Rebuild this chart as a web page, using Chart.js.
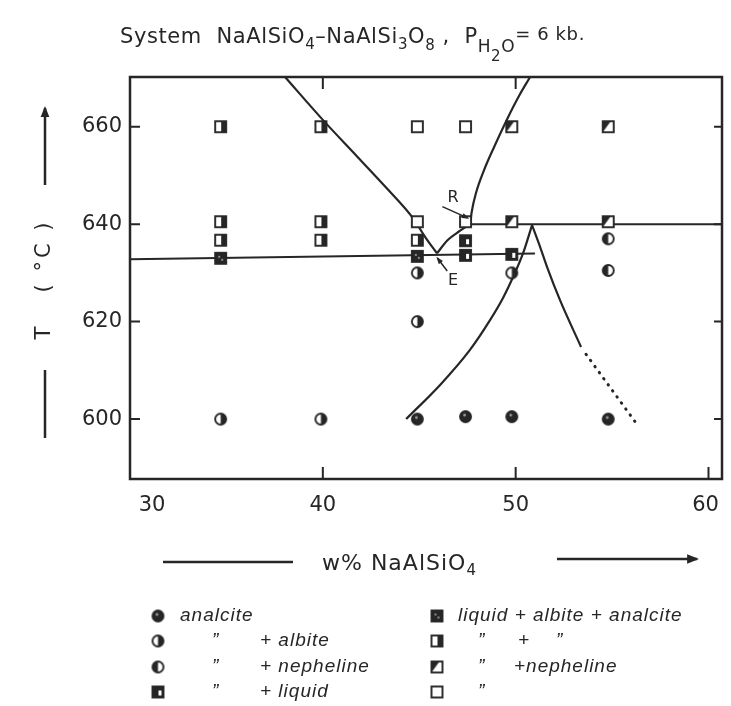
<!DOCTYPE html>
<html>
<head>
<meta charset="utf-8">
<script src="https://cdn.jsdelivr.net/npm/chart.js@4/dist/chart.umd.min.js"></script>
<style>
  html, body { margin: 0; padding: 0; background: #fff; }
  canvas { display: block; }
</style>
</head>
<body>
<canvas id="chart" width="731" height="706"></canvas>
<script>
// axis ticks
const xTicks = [30, 40, 50, 60];
const yTicks = [600, 620, 640, 660];

// experimental runs [w% NaAlSiO4, T]
const analcite = [[44.9, 600], [47.4, 600.5], [49.8, 600.5], [54.8, 600]];
const analciteAlbite = [[34.7, 600], [39.9, 600], [44.9, 630], [44.9, 620], [49.8, 630]];
const analciteNepheline = [[54.8, 637], [54.8, 630.5]];
const analciteLiquid = [[47.4, 636.6], [47.4, 633.6], [49.8, 633.8]];
const liquidAlbiteAnalcite = [[34.7, 633], [44.9, 633.4]];
const liquidAlbite = [[34.7, 660], [39.9, 660], [34.7, 640.5], [39.9, 640.5], [34.7, 636.7], [39.9, 636.7], [44.9, 636.7]];
const liquidNepheline = [[49.8, 660], [54.8, 660], [49.8, 640.5], [54.8, 640.5]];
const liquidOnly = [[44.9, 660], [47.4, 660], [44.9, 640.5], [47.4, 640.5]];

// phase boundaries
const albiteLiquidus = [[38.04, 670.2], [40.0, 661.4], [41.8, 653.8], [43.4, 647.0], [44.68, 641.2], [45.3, 637.4], [45.92, 634.0]];
const analciteLiquidus = [[45.92, 634.0], [46.44, 636.6], [47.1, 638.6], [47.64, 640.0]];
const nephelineLiquidus = [[47.64, 640.0], [47.72, 642.5], [47.95, 646.5], [48.35, 651.0], [48.9, 656.0], [49.55, 661.5], [50.2, 666.5], [50.75, 670.2]];
const line640 = [[47.64, 640.0], [60.7, 640.0]];
const line633 = [[30, 632.8], [51.0, 634.0]];
const solvusLeft = [[44.32, 600.0], [46.08, 607.0], [47.63, 614.2], [48.67, 620.3], [49.35, 624.9], [49.87, 629.2], [50.39, 634.1], [50.85, 639.8]];
const solvusRight = [[50.85, 639.8], [51.27, 635.3], [51.63, 631.2], [52.3, 624.4], [53.39, 614.8]];
const solvusDotted = [[53.65, 613.3], [56.35, 598.6]];

const ink = "#262626";

function xy(list) {
  return list.map(p => ({ x: p[0], y: p[1] }));
}

function makeMarker(kind) {
  const c = document.createElement("canvas");
  c.width = 15;
  c.height = 15;
  const g = c.getContext("2d");
  const m = 7.5;
  g.strokeStyle = ink;
  g.fillStyle = ink;
  g.lineWidth = 1.9;

  if (kind.startsWith("c")) {
    g.beginPath();
    g.arc(m, m, 5.5, 0, Math.PI * 2);
    g.fillStyle = "#fff";
    g.fill();
    g.fillStyle = ink;
    g.beginPath();
    if (kind === "cFull") g.arc(m, m, 5.5, 0, Math.PI * 2);
    if (kind === "cRight") g.arc(m, m, 5.5, -Math.PI / 2, Math.PI / 2);
    if (kind === "cLeft") g.arc(m, m, 5.5, Math.PI / 2, Math.PI * 1.5);
    g.closePath();
    g.fill();
    g.beginPath();
    g.arc(m, m, 5.5, 0, Math.PI * 2);
    g.stroke();
    if (kind === "cFull") {
      g.fillStyle = "#9a9a9a";
      g.beginPath();
      g.arc(6.5, 6, 1.4, 0, Math.PI * 2);
      g.fill();
    }
    return c;
  }

  g.fillStyle = "#fff";
  g.fillRect(2, 2, 11, 11);
  g.fillStyle = ink;
  if (kind === "sFull") {
    g.fillRect(2, 2, 11, 11);
    g.fillStyle = "#8a8a8a";
    g.fillRect(5, 5, 2, 2);
    g.fillRect(8, 8, 2, 2);
  }
  if (kind === "sCorner") {
    g.fillRect(2, 2, 11, 11);
    g.fillStyle = "#fff";
    g.fillRect(8, 6, 3, 5);
  }
  if (kind === "sRight") g.fillRect(8, 2, 5, 11);
  if (kind === "sDiag") {
    g.beginPath();
    g.moveTo(2, 2);
    g.lineTo(10, 2);
    g.lineTo(2, 13);
    g.closePath();
    g.fill();
  }
  g.strokeRect(2, 2, 11, 11);
  return c;
}

const markers = {
  analcite: makeMarker("cFull"),
  anAb: makeMarker("cRight"),
  anNe: makeMarker("cLeft"),
  anLiq: makeMarker("sCorner"),
  liqAbAn: makeMarker("sFull"),
  liqAb: makeMarker("sRight"),
  liqNe: makeMarker("sDiag"),
  liq: makeMarker("sOpen")
};

function pointSet(label, list, marker) {
  return {
    label,
    data: xy(list),
    pointStyle: marker,
    showLine: false,
    order: 0
  };
}

function lineSet(label, list, extra = {}) {
  return Object.assign({
    label,
    data: xy(list),
    showLine: true,
    pointRadius: 0,
    borderColor: ink,
    borderWidth: 2.2,
    cubicInterpolationMode: "monotone",
    fill: false,
    order: 1
  }, extra);
}

function rich(ctx, x, y, parts, spacing) {
  ctx.letterSpacing = (spacing || 0) + "px";
  parts.forEach(([text, size, dy]) => {
    ctx.font = `${size}px "DejaVu Sans"`;
    ctx.fillText(text, x, y + dy);
    x += ctx.measureText(text).width;
  });
  ctx.letterSpacing = "0px";
  return x;
}

function arrow(ctx, x1, y1, x2, y2, head) {
  ctx.beginPath();
  ctx.moveTo(x1, y1);
  ctx.lineTo(x2, y2);
  ctx.stroke();
  const a = Math.atan2(y2 - y1, x2 - x1);
  ctx.beginPath();
  ctx.moveTo(x2 + Math.cos(a) * 2, y2 + Math.sin(a) * 2);
  ctx.lineTo(x2 - Math.cos(a - 0.45) * head, y2 - Math.sin(a - 0.45) * head);
  ctx.lineTo(x2 - Math.cos(a + 0.45) * head, y2 - Math.sin(a + 0.45) * head);
  ctx.closePath();
  ctx.fill();
}

const paper = {
  id: "paper",
  beforeDraw(chart) {
    const ctx = chart.ctx;
    ctx.save();
    ctx.fillStyle = "#fff";
    ctx.fillRect(0, 0, chart.width, chart.height);
    ctx.restore();
  },
  afterDraw(chart) {
    const ctx = chart.ctx;
    const a = chart.chartArea;
    const sx = chart.scales.x;
    const sy = chart.scales.y;
    ctx.save();
    ctx.strokeStyle = ink;
    ctx.fillStyle = ink;

    // frame
    ctx.lineWidth = 2.5;
    ctx.strokeRect(a.left, a.top, a.right - a.left, a.bottom - a.top);

    // inward ticks
    ctx.lineWidth = 2;
    yTicks.forEach(v => {
      const py = sy.getPixelForValue(v);
      ctx.beginPath();
      ctx.moveTo(a.left, py); ctx.lineTo(a.left + 10, py);
      ctx.moveTo(a.right, py); ctx.lineTo(a.right - 8, py);
      ctx.stroke();
    });
    xTicks.slice(1).forEach(v => {
      const px = sx.getPixelForValue(v);
      ctx.beginPath();
      ctx.moveTo(px, a.bottom); ctx.lineTo(px, a.bottom - 12);
      if (v < 60) { ctx.moveTo(px, a.top); ctx.lineTo(px, a.top + 12); }
      ctx.stroke();
    });

    // tick labels
    ctx.font = '21px "DejaVu Sans"';
    ctx.textAlign = "right";
    ctx.textBaseline = "middle";
    yTicks.forEach(v => ctx.fillText(String(v), a.left - 8, sy.getPixelForValue(v)));
    ctx.textAlign = "center";
    xTicks.forEach(v => {
      let px = sx.getPixelForValue(v);
      if (v === 30) px += 22;
      if (v === 60) px -= 3;
      ctx.fillText(String(v), px, 506);
    });

    // title
    ctx.textAlign = "left";
    ctx.textBaseline = "alphabetic";
    rich(ctx, 120, 43, [
      ["System  NaAlSiO", 21, 0], ["4", 15, 6], ["\u2013NaAlSi", 21, 0], ["3", 15, 6],
      ["O", 21, 0], ["8", 15, 7], [" ,  P", 21, 0], ["H", 17, 9], ["2", 15, 18],
      ["O", 17, 9], ["= 6 kb.", 18, -3]
    ], 0.6);

    // y axis title
    ctx.save();
    ctx.translate(45, 0);
    ctx.rotate(-Math.PI / 2);
    ctx.font = '21px "DejaVu Sans"';
    ctx.textAlign = "center";
    ctx.textBaseline = "middle";
    ctx.fillText("T", -333, 0);
    ctx.letterSpacing = "3px";
    ctx.fillText("( \u00b0C )", -256, 0);
    ctx.letterSpacing = "0px";
    ctx.restore();
    ctx.lineWidth = 2.5;
    ctx.beginPath();
    ctx.moveTo(45, 438); ctx.lineTo(45, 370);
    ctx.stroke();
    arrow(ctx, 45, 185, 45, 108, 10);

    // x axis title
    ctx.beginPath();
    ctx.moveTo(163, 562); ctx.lineTo(293, 562);
    ctx.stroke();
    rich(ctx, 322, 570, [["w% NaAlSiO", 22, 0], ["4", 15, 5]], 1);
    arrow(ctx, 557, 559, 697, 559, 11);

    // point annotations
    ctx.font = '16px "DejaVu Sans"';
    ctx.textAlign = "center";
    ctx.textBaseline = "middle";
    ctx.fillText("R", sx.getPixelForValue(46.75), sy.getPixelForValue(645.3));
    ctx.fillText("E", sx.getPixelForValue(46.75), sy.getPixelForValue(628.3));
    ctx.lineWidth = 1.5;
    arrow(ctx, sx.getPixelForValue(46.2), sy.getPixelForValue(643.6),
      sx.getPixelForValue(47.5), sy.getPixelForValue(641.3), 6);
    arrow(ctx, sx.getPixelForValue(46.45), sy.getPixelForValue(630.4),
      sx.getPixelForValue(45.95), sy.getPixelForValue(633.0), 6);

    // legend
    const rows = [616, 641, 667, 692];
    const left = [
      [markers.analcite, [["analcite", 180]]],
      [markers.anAb, [["\u201d", 212], ["+ albite", 260]]],
      [markers.anNe, [["\u201d", 212], ["+ nepheline", 260]]],
      [markers.anLiq, [["\u201d", 212], ["+ liquid", 260]]]
    ];
    const right = [
      [markers.liqAbAn, [["liquid + albite + analcite", 458]]],
      [markers.liqAb, [["\u201d", 478], ["+", 518], ["\u201d", 556]]],
      [markers.liqNe, [["\u201d", 478], ["+nepheline", 514]]],
      [markers.liq, [["\u201d", 478]]]
    ];
    ctx.textAlign = "left";
    ctx.textBaseline = "middle";
    ctx.font = 'italic 19px "Liberation Sans"';
    ctx.letterSpacing = "1px";
    [[left, 158], [right, 437]].forEach(([col, mx]) => {
      col.forEach(([mk, texts], i) => {
        ctx.drawImage(mk, mx - 7.5, rows[i] - 7.5);
        texts.forEach(([t, tx]) => ctx.fillText(t, tx, rows[i]));
      });
    });
    ctx.letterSpacing = "0px";

    ctx.restore();
  }
};

new Chart(document.getElementById("chart"), {
  type: "scatter",
  data: {
    datasets: [
      pointSet("analcite", analcite, markers.analcite),
      pointSet("analcite + albite", analciteAlbite, markers.anAb),
      pointSet("analcite + nepheline", analciteNepheline, markers.anNe),
      pointSet("analcite + liquid", analciteLiquid, markers.anLiq),
      pointSet("liquid + albite + analcite", liquidAlbiteAnalcite, markers.liqAbAn),
      pointSet("liquid + albite", liquidAlbite, markers.liqAb),
      pointSet("liquid + nepheline", liquidNepheline, markers.liqNe),
      pointSet("liquid", liquidOnly, markers.liq),
      lineSet("albite liquidus", albiteLiquidus),
      lineSet("analcite liquidus", analciteLiquidus),
      lineSet("nepheline liquidus", nephelineLiquidus),
      lineSet("640", line640, { cubicInterpolationMode: "default", tension: 0, borderWidth: 2 }),
      lineSet("633", line633, { cubicInterpolationMode: "default", tension: 0, borderWidth: 2 }),
      lineSet("solvus left", solvusLeft),
      lineSet("solvus right", solvusRight),
      lineSet("solvus dotted", solvusDotted, { cubicInterpolationMode: "default", tension: 0, borderDash: [0.5, 7], borderCapStyle: "round", borderWidth: 3 })
    ]
  },
  options: {
    responsive: false,
    animation: false,
    devicePixelRatio: 1,
    layout: { padding: { left: 130, right: 9, top: 77, bottom: 227 } },
    scales: {
      x: { type: "linear", min: 30, max: 60.7, display: false },
      y: { type: "linear", min: 587.7, max: 670.2, display: false }
    },
    plugins: {
      legend: { display: false },
      tooltip: { enabled: false }
    }
  },
  plugins: [paper]
});
</script>
</body>
</html>
